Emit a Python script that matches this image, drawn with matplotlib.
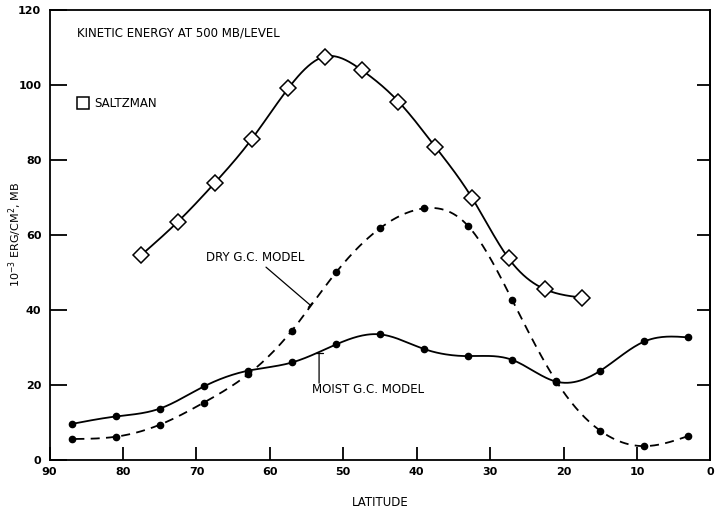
#!/usr/bin/env python3
# Kinetic energy at the 500 mb level vs latitude: observed (Saltzman) and two G.C. model runs
import numpy as np
import matplotlib; matplotlib.use("Agg")
import matplotlib.pyplot as plt

# ---------------------- data ----------------------
saltzman_lat = [77.5, 72.5, 67.5, 62.5, 57.5, 52.5, 47.5, 42.5, 37.5, 32.5, 27.5, 22.5, 17.5]
saltzman_ke  = [54.7, 63.6, 73.9, 85.5, 99.1, 107.6, 104.0, 95.6, 83.6, 70.0, 53.8, 45.5, 43.3]

model_lat = [87, 81, 75, 69, 63, 57, 51, 45, 39, 33, 27, 21, 15, 9, 3]
moist_ke  = [9.6, 11.6, 13.7, 19.6, 23.8, 26.0, 30.8, 33.5, 29.6, 27.7, 26.7, 20.9, 23.8, 31.6, 32.7]
dry_ke    = [5.6, 6.2, 9.4, 15.3, 22.8, 34.5, 50.0, 61.8, 67.1, 62.4, 42.7, 21.0, 7.8, 3.7, 6.4]

x_ticks = [90, 80, 70, 60, 50, 40, 30, 20, 10, 0]
y_ticks = [0, 20, 40, 60, 80, 100, 120]


def natural_spline(x, y, n=400):
    """natural cubic spline through (x, y), returned on a dense grid"""
    x = np.asarray(x, float); y = np.asarray(y, float)
    order = np.argsort(x); x, y = x[order], y[order]
    m = len(x); h = np.diff(x)
    A = np.zeros((m, m)); b = np.zeros(m)
    A[0, 0] = A[-1, -1] = 1.0
    for i in range(1, m - 1):
        A[i, i-1] = h[i-1]; A[i, i] = 2*(h[i-1] + h[i]); A[i, i+1] = h[i]
        b[i] = 6*((y[i+1]-y[i])/h[i] - (y[i]-y[i-1])/h[i-1])
    M = np.linalg.solve(A, b)
    xs = np.linspace(x[0], x[-1], n)
    k = np.clip(np.searchsorted(x, xs) - 1, 0, m - 2)
    t0 = xs - x[k]; t1 = x[k+1] - xs; hk = h[k]
    ys = (M[k]*t1**3 + M[k+1]*t0**3)/(6*hk) + (y[k]/hk - M[k]*hk/6)*t1 + (y[k+1]/hk - M[k+1]*hk/6)*t0
    return xs, ys


plt.rcParams["font.family"] = ["DejaVu Sans"]
fig = plt.figure(figsize=(7.2, 5.08), dpi=100)
ax = fig.add_axes([0.0689, 0.0945, 0.9178, 0.8858])

lw = 1.3
fs = 8.5
# Saltzman
xs, ys = natural_spline(saltzman_lat, saltzman_ke)
ax.plot(xs, ys, color="k", lw=lw, zorder=2)
ax.plot(saltzman_lat, saltzman_ke, ls="none", marker="D", ms=8.5, mfc="white",
        mec="k", mew=1.1, zorder=3)

# moist model
xs, ys = natural_spline(model_lat, moist_ke)
ax.plot(xs, ys, color="k", lw=lw, zorder=2)
ax.plot(model_lat, moist_ke, ls="none", marker="o", ms=4.5, color="k", zorder=3)

# dry model
xs, ys = natural_spline(model_lat, dry_ke)
ax.plot(xs, ys, color="k", lw=lw, ls=(0, (5, 3.5)), zorder=2)
ax.plot(model_lat, dry_ke, ls="none", marker="o", ms=4.5, color="k", zorder=3)

# axes
ax.set_xlim(90, 0)
ax.set_ylim(0, 120)
ax.set_xticks(x_ticks)
ax.set_yticks(y_ticks)
ax.tick_params(axis="y", direction="in", length=12, width=1.3, pad=6,
               labelsize=8)
ax.tick_params(axis="x", direction="in", length=9.5, width=1.3, pad=5,
               labelsize=8)
for lab in ax.get_xticklabels() + ax.get_yticklabels():
    lab.set_fontweight("bold")
for s in ax.spines.values():
    s.set_linewidth(1.3)

right = ax.secondary_yaxis("right")
right.set_yticks(y_ticks[1:-1])
right.tick_params(direction="in", length=9.5, width=1.3, labelright=False)
right.spines["right"].set_linewidth(1.3)

ax.set_xlabel("LATITUDE", fontsize=fs, labelpad=14)
ax.set_ylabel("10$^{-3}$ ERG/CM$^2$, MB", fontsize=8)
ax.yaxis.set_label_coords(-0.038, 0.5)

# annotations
ax.text(0.042, 0.95, "KINETIC ENERGY AT 500 MB/LEVEL", transform=ax.transAxes,
        fontsize=fs, va="center", ha="left")
ax.plot([0.0505], [0.793], transform=ax.transAxes, marker="s", ms=8,
        mfc="white", mec="k", mew=1.1, ls="none")
ax.text(0.068, 0.793, "SALTZMAN", transform=ax.transAxes, fontsize=fs,
        va="center", ha="left")

bar = dict(arrowstyle="-[, widthB=0.25, lengthB=0", color="k", lw=0.9,
           shrinkA=0, shrinkB=0)
ax.annotate("DRY G.C. MODEL", xy=(54.5, 41.3), xytext=(62.0, 53.9),
            fontsize=fs, ha="center", va="center", arrowprops=bar)
ax.annotate("", xy=(53.3, 28.5), xytext=(53.3, 20.5), arrowprops=bar)
ax.text(46.6, 18.7, "MOIST G.C. MODEL", fontsize=fs, ha="center", va="center")

fig.savefig("out.png", dpi=100)
